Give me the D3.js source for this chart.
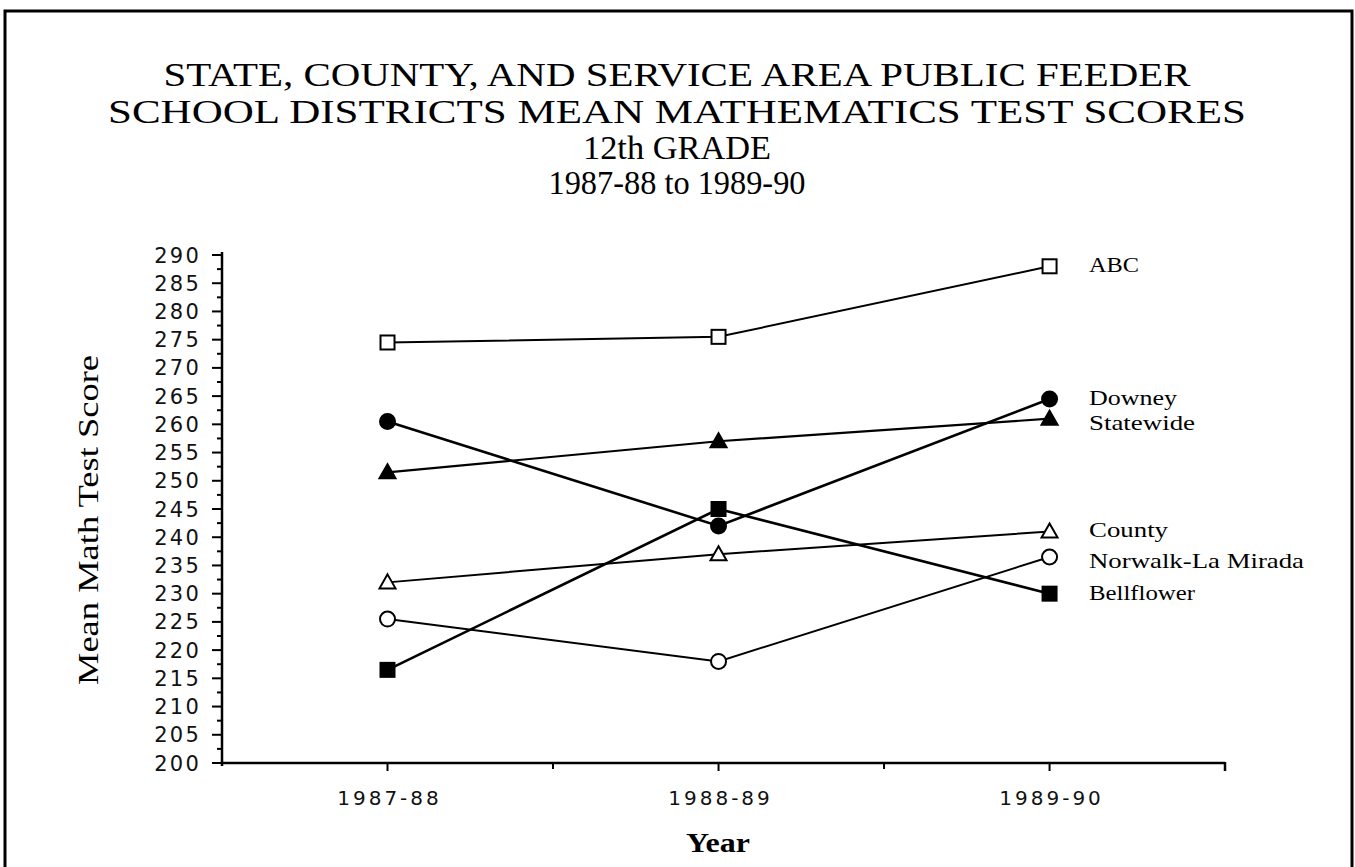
<!DOCTYPE html>
<html><head><meta charset="utf-8">
<script src="https://cdn.jsdelivr.net/npm/d3@7"></script>
<style>body{margin:0;background:#fff}svg{display:block}</style>
</head><body>
<script>
const years = ["1987-88", "1988-89", "1989-90"];
const yTicks = [200,205,210,215,220,225,230,235,240,245,250,255,260,265,270,275,280,285,290];
const seriesNames = ["ABC","Downey","Statewide","County","Norwalk-La Mirada","Bellflower"];
const abc = [274.5, 275.5, 288];
const downey = [260.5, 242, 264.5];
const statewide = [251.5, 257, 261];
const county = [232, 237, 241];
const norwalk = [225.5, 218, 236.5];
const bellflower = [216.5, 245, 230];
const titleLines = ["STATE, COUNTY, AND SERVICE AREA PUBLIC FEEDER","SCHOOL DISTRICTS MEAN MATHEMATICS TEST SCORES","12th GRADE","1987-88 to 1989-90"];

const series = [
  {name:"ABC", values:abc, shape:"square", fill:"#fff", w:2, labelY:265, len:50},
  {name:"Downey", values:downey, shape:"circle", fill:"#000", w:2.6, labelY:398, len:88},
  {name:"Statewide", values:statewide, shape:"triangle", fill:"#000", w:2.2, labelY:423, len:106},
  {name:"County", values:county, shape:"triangle", fill:"#fff", w:2, labelY:530, len:79},
  {name:"Norwalk-La Mirada", values:norwalk, shape:"circle", fill:"#fff", w:2, labelY:561, len:215},
  {name:"Bellflower", values:bellflower, shape:"square", fill:"#000", w:2.6, labelY:593, len:106}
];

const W=1355,H=867;
const svg=d3.select("body").append("svg").attr("width",W).attr("height",H);
svg.append("rect").attr("x",0).attr("y",0).attr("width",W).attr("height",H).attr("fill","#fff");
svg.append("path").attr("d",`M5,${H+5} L5,11 L1352,11 L1352,${H+5}`).attr("fill","none").attr("stroke","#000").attr("stroke-width",3);

const tY=[86,123,159,194], tLen=[1027,1138,188,257];
titleLines.forEach((t,i)=>{
  svg.append("text").attr("x",677).attr("y",tY[i]).attr("text-anchor","middle")
    .attr("font-family","Liberation Serif, serif").attr("font-size",33)
    .attr("textLength",tLen[i]).attr("lengthAdjust","spacingAndGlyphs").text(t);
});

const x=d3.scaleLinear().domain([-0.5,2.53]).range([222,1225]);
const y=d3.scaleLinear().domain([200,290]).range([763,255]);
const X0=x(-0.5), Y0=y(200);

const ax=svg.append("g").attr("stroke","#000");
ax.append("line").attr("x1",X0).attr("x2",X0).attr("y1",y(290)-3).attr("y2",Y0+3).attr("stroke-width",2.5);
d3.range(200,290.01,2.5).forEach(v=>{
  const major = v%5===0;
  ax.append("line").attr("x1",X0-(major?10:5)).attr("x2",X0).attr("y1",y(v)).attr("y2",y(v)).attr("stroke-width",2);
});
svg.selectAll("text.yt").data(yTicks).join("text").attr("class","yt")
  .attr("x",201).attr("y",d=>y(d)+7.5).attr("text-anchor","end")
  .attr("font-family","DejaVu Sans, sans-serif").attr("font-size",21).attr("letter-spacing",2.2)
  .attr("fill","#111").text(d=>d);

ax.append("line").attr("x1",X0).attr("x2",x(2.53)).attr("y1",Y0).attr("y2",Y0).attr("stroke-width",2.5);
ax.append("line").attr("x1",x(2.53)).attr("x2",x(2.53)).attr("y1",Y0-1).attr("y2",Y0+8).attr("stroke-width",2.5);
[0,0.5,1,1.5,2].forEach(i=>{
  ax.append("line").attr("x1",x(i)).attr("x2",x(i)).attr("y1",Y0).attr("y2",Y0+(i%1===0?8:6)).attr("stroke-width",2);
});
svg.selectAll("text.xt").data(years).join("text").attr("class","xt")
  .attr("x",(d,i)=>x(i)+2).attr("y",805).attr("text-anchor","middle")
  .attr("font-family","DejaVu Sans, sans-serif").attr("font-size",20).attr("letter-spacing",3)
  .attr("fill","#111").text(d=>d);

svg.append("text").attr("x",718).attr("y",852).attr("text-anchor","middle")
  .attr("font-family","Liberation Serif, serif").attr("font-weight","bold").attr("font-size",28)
  .attr("textLength",64).attr("lengthAdjust","spacingAndGlyphs").text("Year");
svg.append("text").attr("transform","translate(98,520) rotate(-90)").attr("text-anchor","middle")
  .attr("font-family","Liberation Serif, serif").attr("font-size",29).attr("textLength",330).attr("lengthAdjust","spacingAndGlyphs")
  .text("Mean Math Test Score");

const line=d3.line().x((d,i)=>x(i)).y(d=>y(d));
series.forEach(s=>{
  svg.append("path").attr("d",line(s.values)).attr("fill","none").attr("stroke","#000").attr("stroke-width",s.w);
});
series.forEach(s=>{
  const g=svg.append("g");
  s.values.forEach((v,i)=>{
    const cx=x(i), cy=y(v);
    if(s.shape==="square"){
      g.append("rect").attr("x",cx-7).attr("y",cy-7).attr("width",14).attr("height",14)
        .attr("fill",s.fill).attr("stroke","#000").attr("stroke-width",2);
    } else if(s.shape==="circle"){
      g.append("circle").attr("cx",cx).attr("cy",cy).attr("r",7.5)
        .attr("fill",s.fill).attr("stroke","#000").attr("stroke-width",2);
    } else {
      g.append("path").attr("d",`M${cx},${cy-8} L${cx+8},${cy+6} L${cx-8},${cy+6} Z`)
        .attr("fill",s.fill).attr("stroke","#000").attr("stroke-width",2).attr("stroke-linejoin","miter");
    }
  });
  svg.append("text").attr("x",1089).attr("y",s.labelY+7)
    .attr("font-family","Liberation Serif, serif").attr("font-size",21)
    .attr("textLength",s.len).attr("lengthAdjust","spacingAndGlyphs").text(s.name);
});
</script>
</body></html>
